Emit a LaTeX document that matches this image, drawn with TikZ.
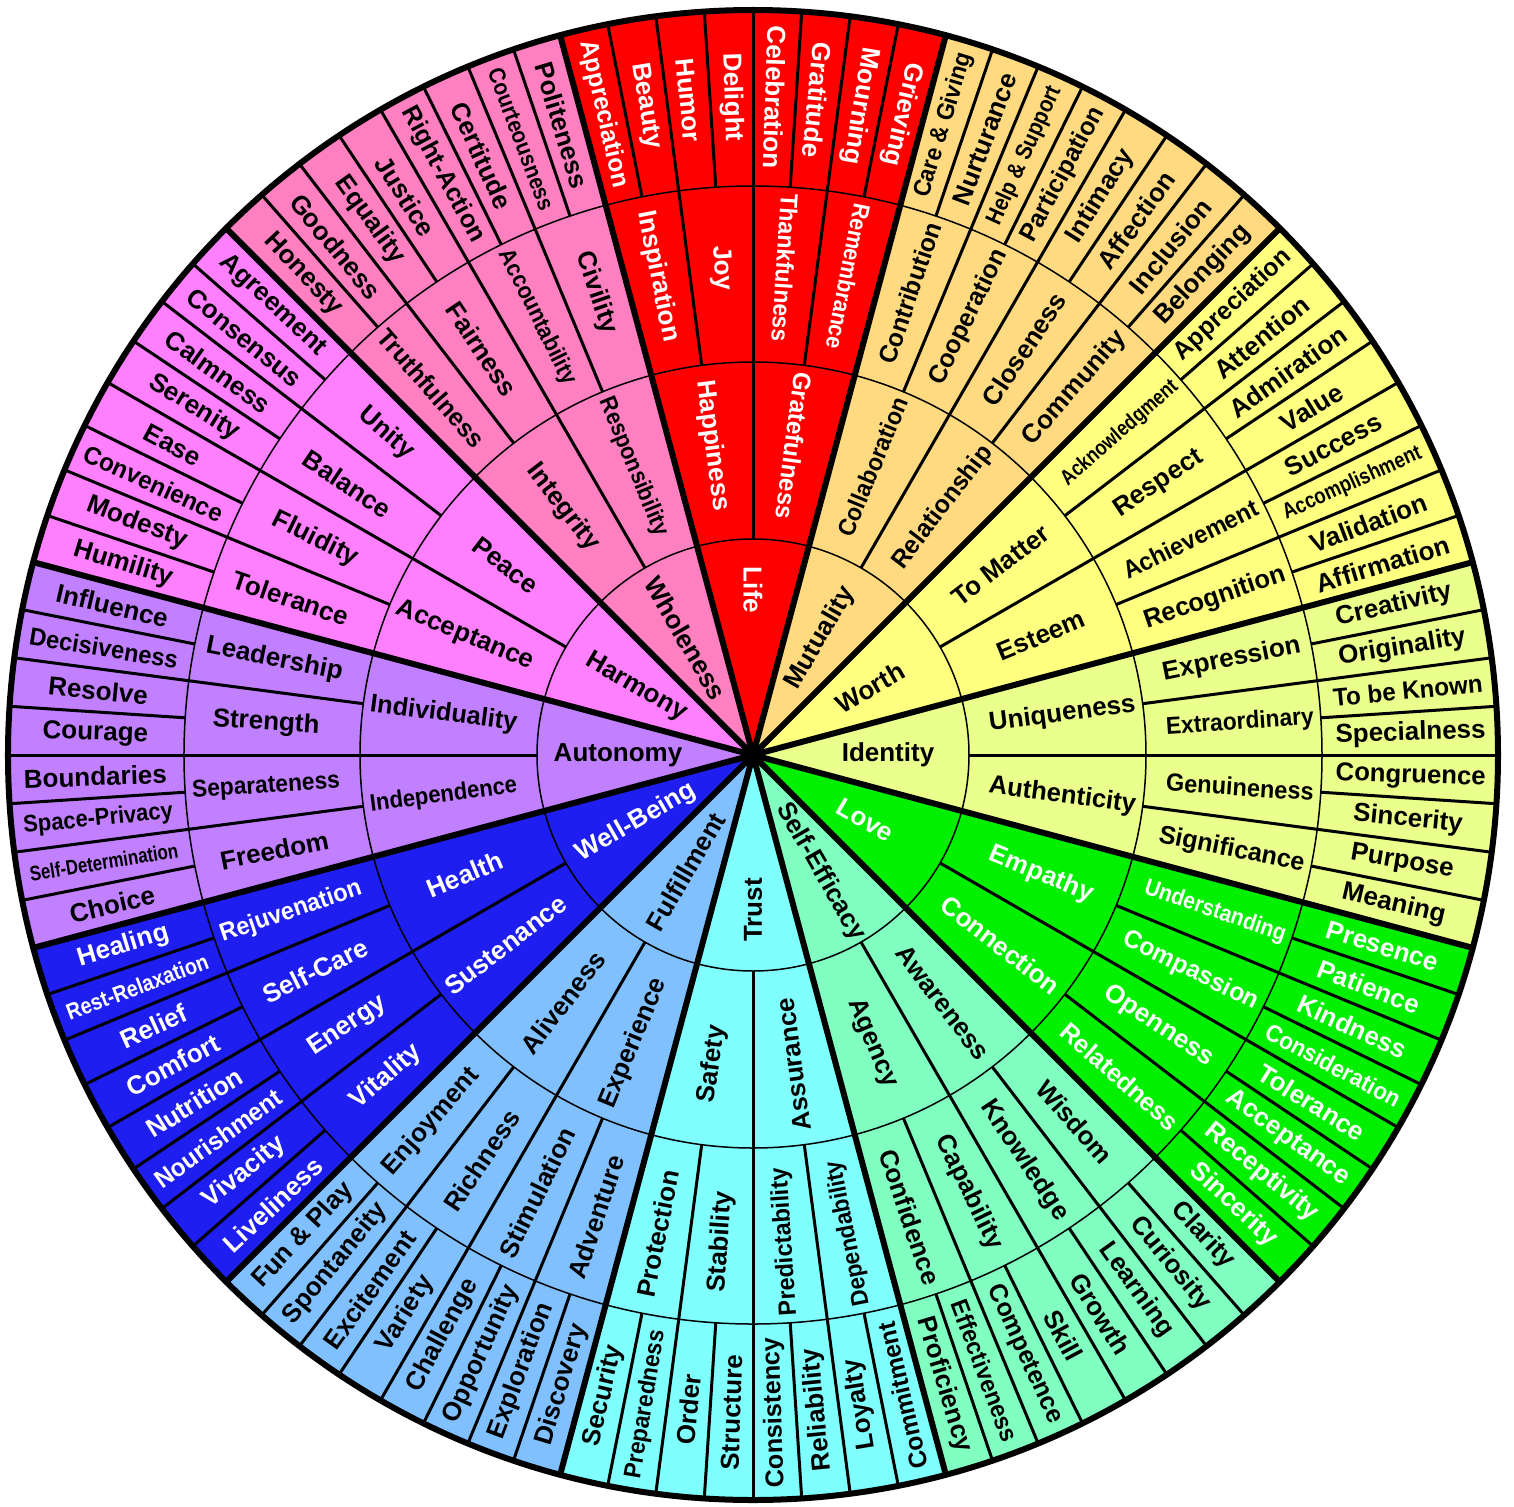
\documentclass[tikz,border=0pt]{standalone}
\usepackage{fontspec}
\setsansfont{Liberation Sans}
\usepackage{graphicx}

\definecolor{lifered}{HTML}{FF0000}
\definecolor{mutorange}{HTML}{FFDA80}
\definecolor{worthyellow}{HTML}{FFFF80}
\definecolor{identlime}{HTML}{EBFF8C}
\definecolor{lovegreen}{HTML}{00F000}
\definecolor{effaqua}{HTML}{80FFC0}
\definecolor{trustcyan}{HTML}{80FFFF}
\definecolor{fulfblue}{HTML}{80C0FF}
\definecolor{wellblue}{HTML}{1E1EF0}
\definecolor{autopurple}{HTML}{C080FF}
\definecolor{harmmagenta}{HTML}{FF80FF}
\definecolor{wholepink}{HTML}{FF80C0}

% ring radii (1 unit = 1 px of the wheel)
\newcommand{\rinner}{216}
\newcommand{\rsecond}{393}
\newcommand{\rthird}{569}
\newcommand{\rrim}{745}

% squeeze a label when it is longer than its cell (mostly sideways)
\newsavebox{\fitbox}
\newcommand{\fitto}[2]{\sbox{\fitbox}{#2}%
  \ifdim\wd\fitbox>#1\relax
    \pgfmathsetmacro{\fitf}{#1/\the\wd\fitbox}%
    \pgfmathsetmacro{\fitv}{sqrt(\fitf)}%
    \scalebox{\fitf}[\fitv]{\usebox{\fitbox}}%
  \else\usebox{\fitbox}\fi}

% one 30 degree wedge: mid angle, text turn, fill, text colour,
% centre label, ring-2 labels, ring-3 labels, outer labels, centre label radius
\newcommand{\wheelsector}[9]{%
  \fill[#3] (0,0) -- (#1+15:\rrim) arc[start angle=#1+15, end angle=#1-15, radius=\rrim] -- cycle;
  % cell dividers
  \draw[divider] (#1:\rinner) -- (#1:\rrim);
  \draw[divider] (#1+7.5:\rsecond) -- (#1+7.5:\rrim);
  \draw[divider] (#1-7.5:\rsecond) -- (#1-7.5:\rrim);
  \foreach \d in {3.75,11.25} {
    \draw[divider] (#1+\d:\rthird) -- (#1+\d:\rrim);
    \draw[divider] (#1-\d:\rthird) -- (#1-\d:\rrim);
  }
  % labels
  \node[tag, text=#4, rotate=#1+#2] (c#1) at (#1:#9) {\fitto{77pt}{#5}};
  \foreach \lab [count=\i] in {#6} {
    \pgfmathsetmacro{\ang}{#1+15-15*(\i-0.5)}
    \node[tag, text=#4, rotate=\ang+#2] (b#1-\i) at (\ang:312) {\fitto{74pt}{\lab}};
  }
  \foreach \lab [count=\i] in {#7} {
    \pgfmathsetmacro{\ang}{#1+15-7.5*(\i-0.5)}
    \node[tag, text=#4, rotate=\ang+#2] (t#1-\i) at (\ang:488) {\fitto{74pt}{\lab}};
  }
  \foreach \lab [count=\i] in {#8} {
    \pgfmathsetmacro{\ang}{#1+15-3.75*(\i-0.5)}
    \node[tag, text=#4, rotate=\ang+#2] (o#1-\i) at (\ang:658) {\fitto{75pt}{\lab}};
  }
}

\begin{document}
\begin{tikzpicture}[
  x=0.5pt, y=0.5pt,
  font=\sffamily\bfseries\fontsize{13}{15}\selectfont,
  tag/.style={inner sep=0pt, anchor=center},
  divider/.style={line width=1.5pt, black},
  ring/.style={line width=0.75pt, black},
  spoke/.style={line width=3pt, black, line cap=round},
  rim/.style={line width=3pt, black}
]
  \useasboundingbox (-753,-751) rectangle (761,755);

  % Top and right half (text reads outward on the right)
  \wheelsector{90}{180}{lifered}{white}{Life}{Happiness,Gratefulness}{Inspiration,Joy,Thankfulness,Remembrance}{Appreciation,Beauty,Humor,Delight,Celebration,Gratitude,Mourning,Grieving}{165}
  \wheelsector{60}{0}{mutorange}{black}{Mutuality}{Collaboration,Relationship}{Contribution,Cooperation,Closeness,Community}{Care \& Giving,Nurturance,Help \& Support,Participation,Intimacy,Affection,Inclusion,Belonging}{135}
  \wheelsector{30}{0}{worthyellow}{black}{Worth}{To Matter,Esteem}{Acknowledgment,Respect,Achievement,Recognition}{Appreciation,Attention,Admiration,Value,Success,Accomplishment,Validation,Affirmation}{135}
  \wheelsector{0}{0}{identlime}{black}{Identity}{Uniqueness,Authenticity}{Expression,Extraordinary,Genuineness,Significance}{Creativity,Originality,To be Known,Specialness,Congruence,Sincerity,Purpose,Meaning}{135}
  \wheelsector{-30}{0}{lovegreen}{white}{Love}{Empathy,Connection}{Understanding,Compassion,Openness,Relatedness}{Presence,Patience,Kindness,Consideration,Tolerance,Acceptance,Receptivity,Sincerity}{130}
  \wheelsector{-60}{0}{effaqua}{black}{Self-Efficacy}{Awareness,Agency}{Wisdom,Knowledge,Capability,Confidence}{Clarity,Curiosity,Learning,Growth,Skill,Competence,Effectiveness,Proficiency}{135}

  % Bottom and left half (text reads toward the centre)
  \wheelsector{-90}{180}{trustcyan}{black}{Trust}{Assurance,Safety}{Dependability,Predictability,Stability,Protection}{Commitment,Loyalty,Reliability,Consistency,Structure,Order,Preparedness,Security}{155}
  \wheelsector{-120}{180}{fulfblue}{black}{Fulfillment}{Experience,Aliveness}{Adventure,Stimulation,Richness,Enjoyment}{Discovery,Exploration,Opportunity,Challenge,Variety,Excitement,Spontaneity,Fun \& Play}{135}
  \wheelsector{-150}{180}{wellblue}{white}{Well-Being}{Sustenance,Health}{Vitality,Energy,Self-Care,Rejuvenation}{Liveliness,Vivacity,Nourishment,Nutrition,Comfort,Relief,Rest-Relaxation,Healing}{135}
  \wheelsector{180}{180}{autopurple}{black}{Autonomy}{Independence,Individuality}{Freedom,Separateness,Strength,Leadership}{Choice,Self-Determination,Space-Privacy,Boundaries,Courage,Resolve,Decisiveness,Influence}{135}
  \wheelsector{150}{180}{harmmagenta}{black}{Harmony}{Acceptance,Peace}{Tolerance,Fluidity,Balance,Unity}{Humility,Modesty,Convenience,Ease,Serenity,Calmness,Consensus,Agreement}{135}
  \wheelsector{120}{180}{wholepink}{black}{Wholeness}{Integrity,Responsibility}{Truthfulness,Fairness,Accountability,Civility}{Honesty,Goodness,Equality,Justice,Right-Action,Certitude,Courteousness,Politeness}{135}

  % Rings, spokes and rim
  \foreach \r in {\rinner,\rsecond,\rthird}
    \draw[ring] (0,0) circle[radius=\r];
  \foreach \a in {15,45,...,345}
    \draw[spoke] (0,0) -- (\a:\rrim);
  \draw[rim] (0,0) circle[radius=\rrim];
\end{tikzpicture}
\end{document}
